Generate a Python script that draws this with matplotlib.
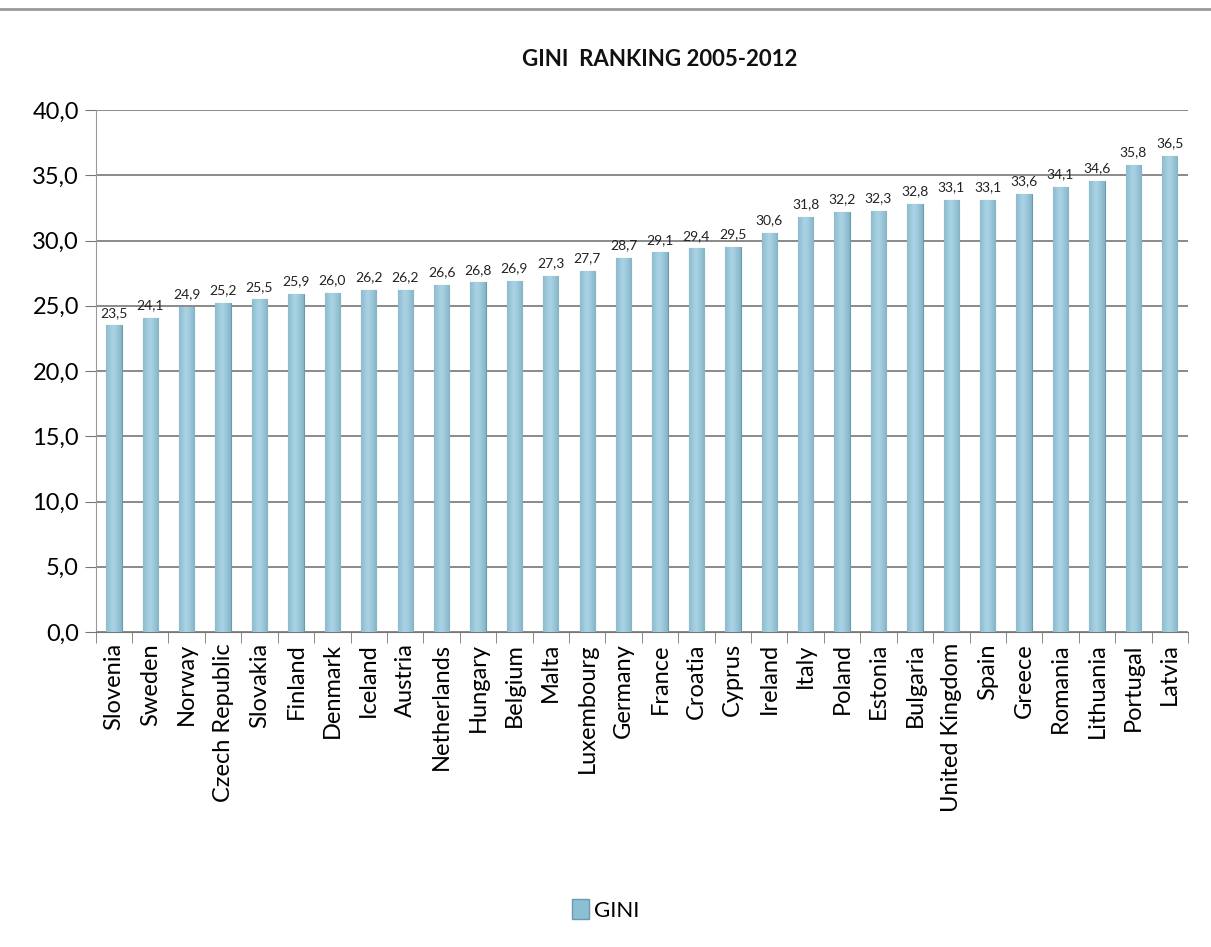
import numpy as np
import matplotlib.pyplot as plt
from matplotlib.lines import Line2D
from matplotlib.patches import Patch

countries = ['Slovenia', 'Sweden', 'Norway', 'Czech Republic', 'Slovakia', 'Finland',
             'Denmark', 'Iceland', 'Austria', 'Netherlands', 'Hungary', 'Belgium',
             'Malta', 'Luxembourg', 'Germany', 'France', 'Croatia', 'Cyprus', 'Ireland',
             'Italy', 'Poland', 'Estonia', 'Bulgaria', 'United Kingdom', 'Spain',
             'Greece', 'Romania', 'Lithuania', 'Portugal', 'Latvia']
gini = [23.5, 24.1, 24.9, 25.2, 25.5, 25.9, 26.0, 26.2, 26.2, 26.6, 26.8, 26.9,
        27.3, 27.7, 28.7, 29.1, 29.4, 29.5, 30.6, 31.8, 32.2, 32.3, 32.8, 33.1,
        33.1, 33.6, 34.1, 34.6, 35.8, 36.5]
yticks = np.arange(0, 45, 5)

plt.rcParams['font.family'] = ['Lato', 'DejaVu Sans']

fig = plt.figure(figsize=(12.11, 9.47), dpi=100)
ax = fig.add_axes([0.079, 0.3326, 0.902, 0.5512])

x = np.arange(len(countries))
w = 0.42
bars = ax.bar(x, gini, width=w, color='#8dbfd3', edgecolor='#6a9aae', linewidth=0.8, zorder=3)

# cylinder-like shading
grad = np.linspace(0, 1, 64)
shade = 1 - 0.55 * np.abs(grad - 0.45) ** 1.2
cmap = plt.matplotlib.colors.LinearSegmentedColormap.from_list('cyl', ['#5f93a8', '#a9d3e4'])
for b in bars:
    x0, y0 = b.get_x(), b.get_y()
    im = ax.imshow(shade[np.newaxis, :], extent=[x0, x0 + b.get_width(), y0, y0 + b.get_height()],
                   aspect='auto', cmap=cmap, vmin=0.45, vmax=1.0, zorder=3.5)
    im.set_clip_path(b)

for xi, v in zip(x, gini):
    ax.text(xi, v + 0.5, f'{v:.1f}'.replace('.', ','), ha='center', va='bottom', fontsize=10, color='#222222')

ax.set_ylim(0, 40)
ax.set_xlim(-0.5, len(countries) - 0.5)
ax.set_yticks(yticks)
ax.set_yticklabels([f'{t:.1f}'.replace('.', ',') for t in yticks], fontsize=17)
ax.set_xticks(x)
ax.set_xticklabels(countries, rotation=90, fontsize=17)
ax.set_xticks(np.arange(-0.5, len(countries)), minor=True)
ax.tick_params(axis='x', which='major', length=0, pad=8)
ax.tick_params(axis='x', which='minor', length=8, color='#777777')
ax.tick_params(axis='y', length=8, color='#777777', pad=4)
ax.yaxis.grid(True, color='#777777', linewidth=1.2, zorder=0)
for s in ['top', 'right']:
    ax.spines[s].set_visible(False)
ax.spines['left'].set_color('#999999')
ax.spines['bottom'].set_color('#777777')

fig.text(0.545, 0.937, 'GINI  RANKING 2005-2012', ha='center', va='center', fontsize=16, fontweight='bold',
         color='#111111')
fig.add_artist(Line2D([0.0, 1.0], [0.991, 0.991], color='#999999', linewidth=2, transform=fig.transFigure))

fig.legend(handles=[Patch(facecolor='#8dbfd3', edgecolor='#6a9aae', label='GINI')], loc='center',
           bbox_to_anchor=(0.5, 0.039), frameon=False, fontsize=16, handlelength=0.8, handleheight=1.0,
           handletextpad=0.2)

fig.savefig('out.png', dpi=100)
